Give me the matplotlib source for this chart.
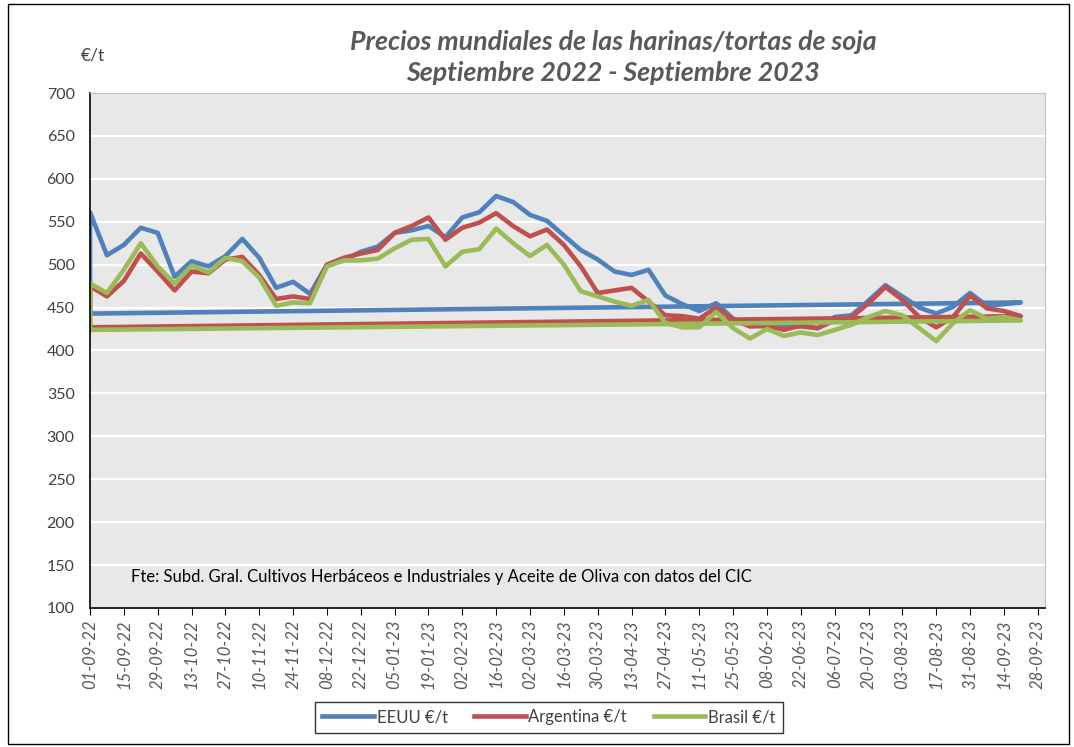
import matplotlib
matplotlib.use('Agg')
import matplotlib.pyplot as plt
import matplotlib.dates as mdates
import numpy as np
import pandas as pd

""" Data """

fechas = pd.date_range('2022-09-01', '2023-09-21', freq='7D')

eeuu = [561, 511, 523, 543, 537, 486, 504, 498, 510, 530, 508, 473, 480, 466,
        500, 505, 515, 521, 537, 540, 545, 532, 555, 561, 580, 573, 558, 551,
        534, 517, 506, 492, 488, 494, 464, 454, 446, 455, 437, 429, 428, 427,
        428, 426, 439, 441, 458, 476, 463, 450, 443, 451, 467, 452, 454, 456]
argentina = [475, 463, 481, 513, 492, 470, 492, 490, 506, 509, 488, 460, 463, 460,
             500, 508, 513, 517, 537, 545, 555, 529, 543, 549, 560, 545, 533, 541,
             523, 498, 467, 470, 473, 457, 441, 440, 437, 450, 436, 428, 429, 424,
             429, 426, 435, 439, 455, 474, 459, 439, 427, 439, 464, 449, 446, 440]
brasil = [478, 467, 494, 525, 498, 478, 499, 491, 508, 504, 485, 452, 456, 455,
          498, 505, 505, 507, 519, 529, 530, 498, 515, 518, 542, 525, 510, 523,
          500, 469, 463, 457, 452, 459, 432, 427, 427, 445, 426, 414, 425, 417,
          421, 418, 424, 430, 439, 446, 441, 426, 411, 432, 447, 437, 439, 435]

# first row of each series (same date as the first week)
eeuu_ref = 443
argentina_ref = 427
brasil_ref = 424

names = ['EEUU €/t', 'Argentina €/t', 'Brasil €/t']
colors = ['#4F81BD', '#C0504D', '#9BBB59']

""" Plot """

plt.rcParams['font.family'] = ['Lato', 'DejaVu Sans']

fig = plt.figure(figsize=(10.74, 7.47), dpi=100)
ax = fig.add_axes([0.0838, 0.1861, 0.8892, 0.6894])
ax.set_facecolor('#E8E8E8')

series = [(eeuu, eeuu_ref), (argentina, argentina_ref), (brasil, brasil_ref)]
for (vals, ref), name, col in zip(series, names, colors):
    x = [fechas[0]] + list(fechas) + [fechas[0]]
    y = [ref] + vals + [ref]
    ax.plot(x, y, color=col, linewidth=3.3, label=name, solid_joinstyle='round')

ax.set_ylim(100, 700)
ax.set_yticks(np.arange(100, 701, 50))
ax.yaxis.grid(True, color='white', linewidth=1.6)
ax.set_axisbelow(True)

ax.set_xlim(pd.Timestamp('2022-09-01'), pd.Timestamp('2023-10-01'))
ticks = pd.date_range('2022-09-01', '2023-09-28', freq='14D')
ax.set_xticks(ticks)
ax.xaxis.set_major_formatter(mdates.DateFormatter('%d-%m-%y'))
for lab in ax.get_xticklabels():
    lab.set_rotation(90)
    lab.set_fontstyle('italic')

ax.tick_params(axis='x', direction='out', length=5, color='black',
               labelsize=12, labelcolor='#595959', pad=3)
ax.tick_params(axis='y', length=0, labelsize=11.5, labelcolor='#404040', pad=11)

ax.spines['left'].set_color('black')
ax.spines['bottom'].set_color('black')
ax.spines['left'].set_linewidth(1.2)
ax.spines['bottom'].set_linewidth(1.2)
ax.spines['top'].set_color('#BFBFBF')
ax.spines['right'].set_color('#BFBFBF')

fig.text(0.571, 0.944, 'Precios mundiales de las harinas/tortas de soja',
         ha='center', va='center', fontsize=19.3, fontweight='bold',
         fontstyle='italic', color='#595959')
fig.text(0.571, 0.902, 'Septiembre 2022 - Septiembre 2023',
         ha='center', va='center', fontsize=19.3, fontweight='bold',
         fontstyle='italic', color='#595959')
fig.text(0.075, 0.926, '€/t', ha='left', va='center', fontsize=12.5,
         color='#404040')

ax.text(0.043, 0.06, 'Fte: Subd. Gral. Cultivos Herbáceos e Industriales y Aceite de Oliva con datos del CIC',
        transform=ax.transAxes, fontsize=12, color='black', va='center')

leg = fig.legend(loc='center', bbox_to_anchor=(0.511, 0.040), ncol=3,
                 frameon=True, fancybox=False, fontsize=12, handlelength=3.1,
                 handletextpad=0.15, columnspacing=1.6, borderpad=0.45)
leg.get_frame().set_edgecolor('black')
leg.get_frame().set_linewidth(1.0)
for t in leg.get_texts():
    t.set_color('#404040')

# outer frame of the chart
fig.patches.append(plt.Rectangle((0.007, 0.004), 0.988, 0.99, transform=fig.transFigure,
                                 fill=False, edgecolor='black', linewidth=1.0))

fig.savefig('out.png', dpi=100)
